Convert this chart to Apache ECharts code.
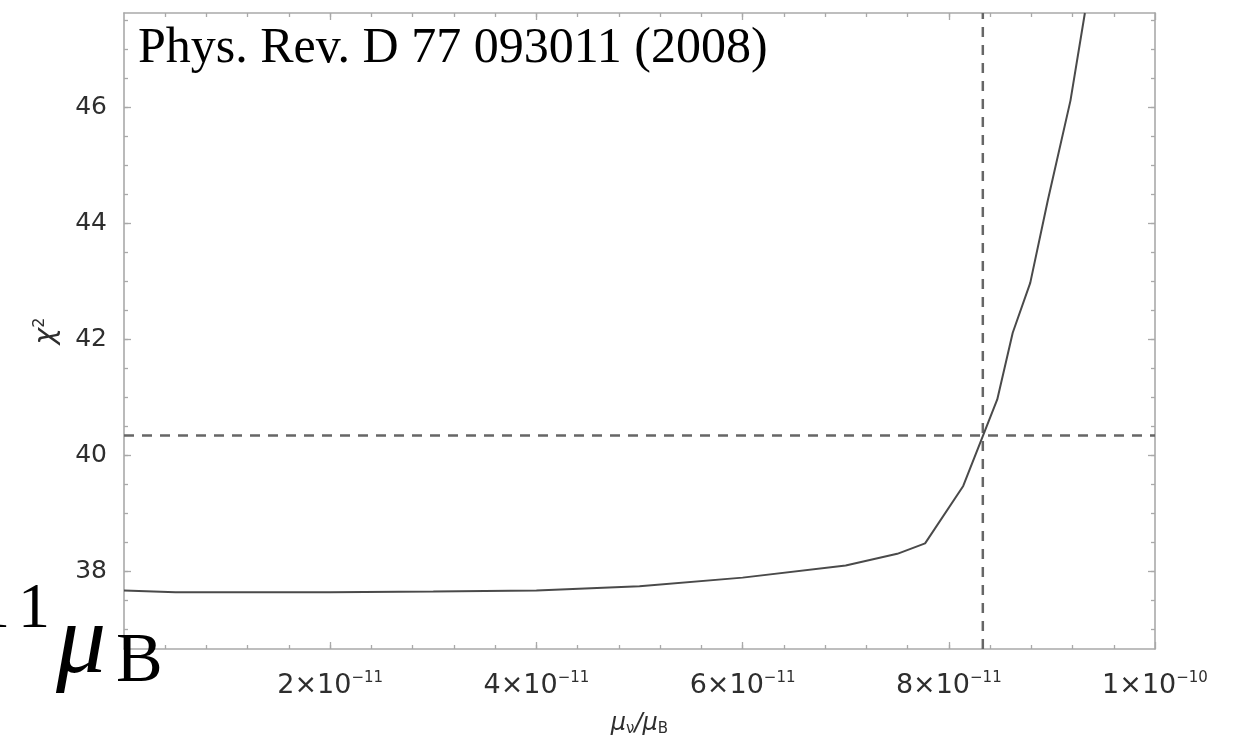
<!DOCTYPE html>
<html>
<head>
<meta charset="utf-8">
<script src="https://cdn.jsdelivr.net/npm/echarts@6/dist/echarts.min.js"></script>
<style>
  html, body { margin: 0; padding: 0; background: #fff; }
  #chart { width: 1239px; height: 739px; }
</style>
</head>
<body>
<div id="chart"></div>
<script>
// χ² of the fit as a function of the neutrino magnetic moment μν/μB
const muRatio = [0, 0.5e-11, 1e-11, 2e-11, 3e-11, 4e-11, 5e-11, 6e-11, 7e-11, 7.5e-11,
                 7.77e-11, 8.14e-11, 8.33e-11, 8.47e-11, 8.62e-11, 8.79e-11, 8.96e-11, 9.18e-11, 9.32e-11];
const chiSquared = [37.67, 37.64, 37.64, 37.64, 37.65, 37.67, 37.74, 37.89, 38.1, 38.3,
                    38.48, 39.47, 40.33, 40.96, 42.11, 42.97, 44.39, 46.11, 47.62];

// Dashed reference lines: the bound on μν/μB and the χ² threshold
const muBound = 8.33e-11;
const chiThreshold = 40.34;

// Axis extents and tick values
const xRange = [0, 1e-10];
const yRange = [36.66, 47.62];
const xTickValues = [2e-11, 4e-11, 6e-11, 8e-11, 1e-10];
const yTickValues = [38, 40, 42, 44, 46];
const xMinorStep = 0.4e-11;
const yMinorStep = 0.5;

const xMinorTicks = [];
for (let i = 1; i * xMinorStep < xRange[1] - 1e-13; i++) xMinorTicks.push(i * xMinorStep);
const yMinorTicks = [];
for (let v = 37; v < yRange[1]; v += yMinorStep) yMinorTicks.push(v);

const frameColor = '#a9a9a9';
const labelColor = '#2e2e2e';
const sansFont = 'DejaVu Sans';

function sciLabel(v) {
  const e = Math.floor(Math.log10(v) + 1e-9);
  const m = Math.round(v / Math.pow(10, e));
  return '{b|' + m + '×10}{s|−' + Math.abs(e) + '}';
}

function frameAxis(dim, position, gridIndex, ticks, tickLen, withLabels) {
  const range = dim === 'x' ? xRange : yRange;
  const axis = {
    type: 'value',
    gridIndex: gridIndex,
    position: position,
    min: range[0],
    max: range[1],
    axisLine: { show: gridIndex === 0, onZero: false, lineStyle: { color: frameColor, width: 1.6 } },
    axisTick: { show: true, inside: true, length: tickLen, customValues: ticks,
                lineStyle: { color: frameColor, width: 1.3 } },
    axisLabel: { show: false },
    splitLine: { show: false },
    minorTick: { show: false }
  };
  if (withLabels) {
    if (dim === 'x') {
      axis.axisLabel = {
        show: true, customValues: xTickValues, margin: 22,
        formatter: sciLabel,
        rich: {
          b: { fontFamily: sansFont, fontSize: 27, color: labelColor, lineHeight: 30 },
          s: { fontFamily: sansFont, fontSize: 15, color: labelColor, lineHeight: 14, verticalAlign: 'top' }
        }
      };
      axis.name = '{m|μ}{d|ν}{m|/μ}{d|B}';
      axis.nameLocation = 'middle';
      axis.nameGap = 62;
      axis.nameTextStyle = {
        rich: {
          m: { fontFamily: sansFont, fontSize: 24, fontStyle: 'italic', color: labelColor, lineHeight: 26 },
          d: { fontFamily: sansFont, fontSize: 15, color: labelColor, lineHeight: 15, verticalAlign: 'bottom' }
        }
      };
    } else {
      axis.axisLabel = {
        show: true, customValues: yTickValues, margin: 17,
        fontFamily: sansFont, fontSize: 25, color: labelColor
      };
      axis.name = '{c|χ}{p|2}';
      axis.nameLocation = 'middle';
      axis.nameRotate = 90;
      axis.nameGap = 62;
      axis.nameTextStyle = {
        rich: {
          c: { fontFamily: sansFont, fontSize: 28, fontStyle: 'italic', color: labelColor, lineHeight: 30 },
          p: { fontFamily: sansFont, fontSize: 16, color: labelColor, lineHeight: 16, verticalAlign: 'top' }
        }
      };
    }
  }
  return axis;
}

const gridRect = { left: 124, right: 84, top: 13, bottom: 90, outerBoundsMode: 'none', containLabel: false };

const dashStyle = { type: [10, 8], color: '#666666', width: 2.5 };

const chart = echarts.init(document.getElementById('chart'), null, { renderer: 'canvas' });
chart.setOption({
  animation: false,
  backgroundColor: '#ffffff',
  grid: [Object.assign({}, gridRect), Object.assign({}, gridRect)],
  xAxis: [
    frameAxis('x', 'bottom', 0, xTickValues, 7, true),
    frameAxis('x', 'top', 0, xTickValues, 7, false),
    frameAxis('x', 'bottom', 1, xMinorTicks, 4, false),
    frameAxis('x', 'top', 1, xMinorTicks, 4, false)
  ],
  yAxis: [
    frameAxis('y', 'left', 0, yTickValues, 7, true),
    frameAxis('y', 'right', 0, yTickValues, 7, false),
    frameAxis('y', 'left', 1, yMinorTicks, 4, false),
    frameAxis('y', 'right', 1, yMinorTicks, 4, false)
  ],
  series: [
    {
      // bound on μν/μB
      type: 'line', xAxisIndex: 0, yAxisIndex: 0, silent: true,
      data: [[muBound, yRange[0]], [muBound, yRange[1]]],
      showSymbol: false, symbol: 'none', lineStyle: dashStyle, z: 2
    },
    {
      // χ² threshold
      type: 'line', xAxisIndex: 0, yAxisIndex: 0, silent: true,
      data: [[xRange[0], chiThreshold], [xRange[1], chiThreshold]],
      showSymbol: false, symbol: 'none', lineStyle: dashStyle, z: 2
    },
    {
      type: 'line',
      xAxisIndex: 0,
      yAxisIndex: 0,
      data: muRatio.map((m, i) => [m, chiSquared[i]]),
      showSymbol: false,
      symbol: 'none',
      clip: true,
      z: 3,
      lineStyle: { color: '#4a4a4a', width: 2 }
    }
  ],
  graphic: [
    {
      type: 'text', left: 138, top: 24, z: 10,
      style: { text: 'Phys. Rev. D 77 093011 (2008)', font: '50px "Liberation Serif"', fill: '#000' }
    },
    // fragment of an exponent and the μB unit sitting at the lower-left edge
    {
      type: 'text', z: 10,
      style: { x: 10, y: 642, text: '1', align: 'right', verticalAlign: 'bottom',
               font: '64px "Liberation Serif"', fill: '#000' }
    },
    {
      type: 'text', z: 10,
      style: { x: 50, y: 642, text: '1', align: 'right', verticalAlign: 'bottom',
               font: '64px "Liberation Serif"', fill: '#000' }
    },
    {
      type: 'text', z: 10,
      style: { x: 56, y: 696, text: 'μ', align: 'left', verticalAlign: 'bottom',
               font: 'italic 100px "Liberation Serif"', fill: '#000' }
    },
    {
      type: 'text', z: 10,
      style: { x: 116, y: 698, text: 'B', align: 'left', verticalAlign: 'bottom',
               font: '70px "Liberation Serif"', fill: '#000' }
    }
  ]
});
</script>
</body>
</html>
